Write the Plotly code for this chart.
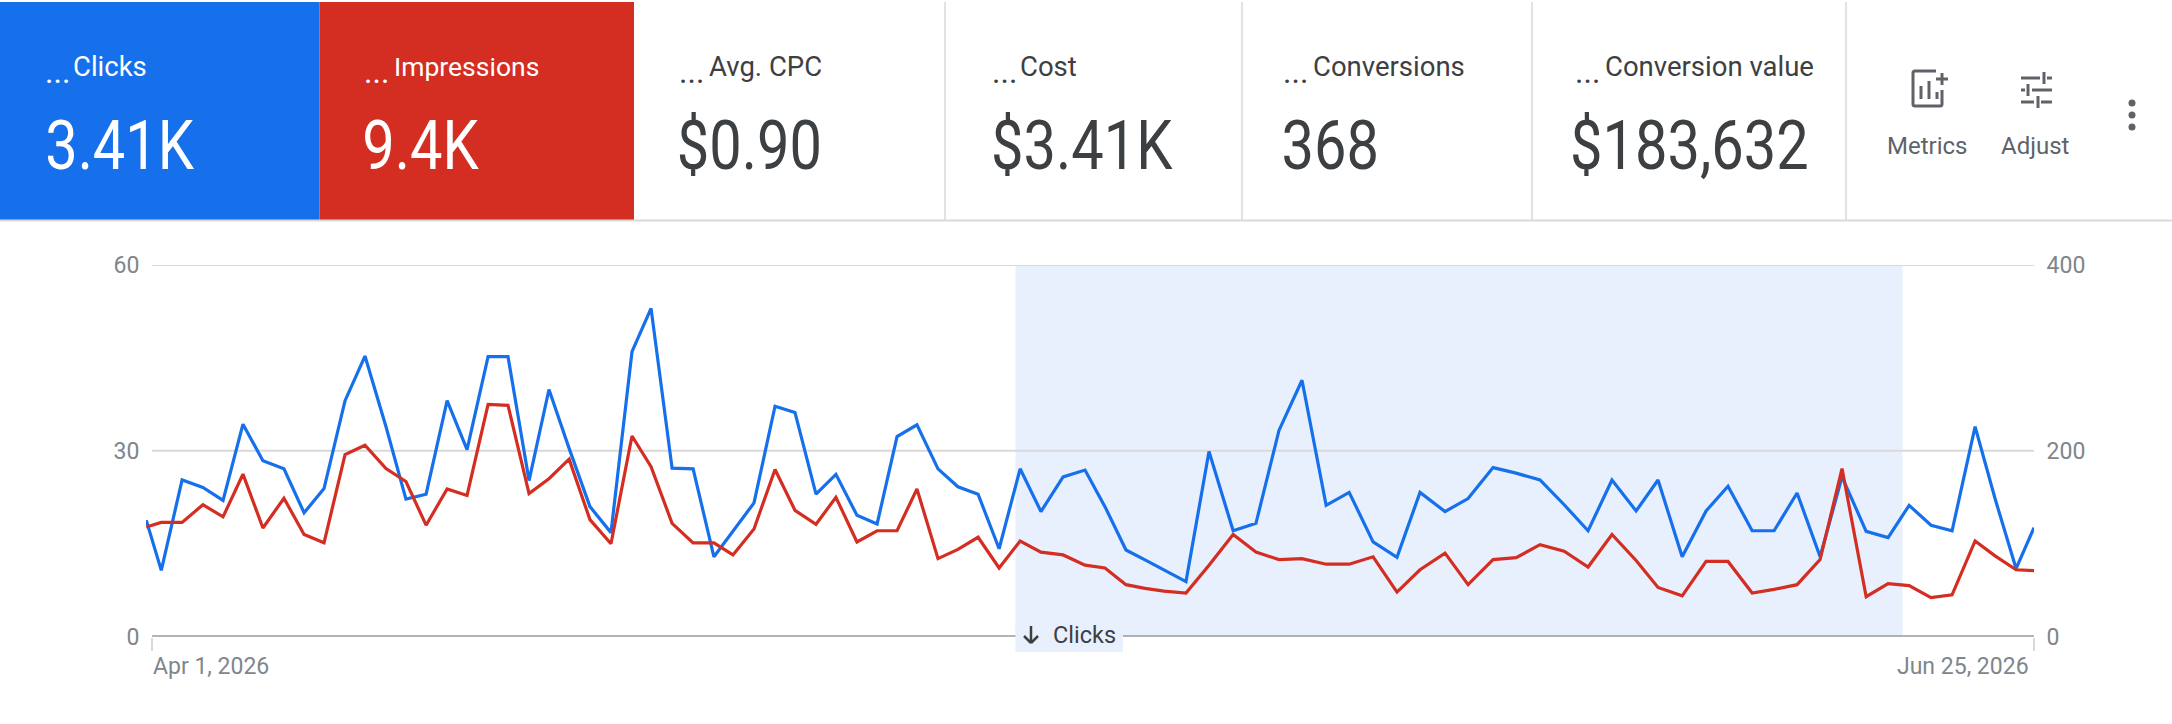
import plotly.graph_objects as go

# ---- data ----
days = [-0.26,0.42,1.36,2.30,3.21,4.11,5.01,5.96,6.87,7.77,8.72,9.62,10.57,11.47,12.38,13.33,14.23,15.18,16.08,17.03,17.93,18.84,19.78,20.73,21.68,22.54,23.49,24.44,25.38,26.24,27.19,
        28.14,29.04,29.99,30.89,31.84,32.75,33.65,34.55,35.50,36.40,37.31,38.26,39.21,40.15,41.15,42.14,43.04,43.99,44.85,45.71,46.70,47.74,48.83,49.86,50.90,51.94,53.03,54.07,55.15,56.23,
        57.27,58.40,59.44,60.57,61.61,62.69,63.78,64.86,65.94,67.03,68.02,69.11,70.19,71.18,72.27,73.26,74.30,75.34,76.33,77.42,78.41,79.36,80.35,81.30,82.34,83.24,84.19,85.00]
clicks = [18.8,10.7,25.3,24.1,22.0,34.3,28.4,27.1,20.0,23.9,38.1,45.3,33.9,22.2,23.0,38.1,30.2,45.2,45.2,25.2,39.9,30.4,21.0,16.8,46.0,53.0,27.2,27.1,12.9,17.0,21.6,
          37.2,36.2,23.0,26.2,19.6,18.2,32.3,34.2,27.1,24.2,23.0,14.2,27.1,20.2,25.8,26.9,21.0,14.0,12.4,10.8,8.9,29.9,17.1,18.3,33.3,41.4,21.2,23.3,15.3,12.8,
          23.3,20.2,22.3,27.3,26.4,25.3,21.3,17.1,25.3,20.3,25.3,12.9,20.3,24.3,17.1,17.1,23.2,12.9,25.8,17.0,16.0,21.2,18.0,17.1,33.9,22.3,11.0,17.6]
impressions = [118,123,123,142,129,175,117,149,110,101,196,206,181,167,120,159,152,250,249,154,170,191,126,100,216,183,122,101,101,88,116,
               180,136,121,150,102,114,114,159,84,94,107,74,103,91,88,77,74,56,52,49,47,77,110,91,83,84,78,78,86,48,
               72,90,56,83,85,99,92,75,110,82,53,44,81,81,47,51,56,83,181,43,57,55,42,45,103,87,72,71]
kpi_labels = ["Clicks", "Impressions", "Avg. CPC", "Cost", "Conversions", "Conversion value"]
kpi_values = ["3.41K", "9.4K", "$0.90", "$3.41K", "368", "$183,632"]
left_ticks = [0, 30, 60]
right_ticks = [0, 200, 400]
date_labels = ["Apr 1, 2026", "Jun 25, 2026"]
tool_labels = ["Metrics", "Adjust"]

# ---- page geometry (pixels) ----
W, H = 2172, 724
BLUE, RED = "#1670EB", "#D42D21"
INK, MUTED, RULE, AXIS, BAND = "#3c4043", "#80868b", "#d9d9d9", "#9b9b9b", "#E8F0FD"
UI_FONT = "Roboto, sans-serif"
PLOT_L, PLOT_R, PLOT_START = 152, 2034, 146

def px(x): return x / W
def py(y): return 1 - y / H

shapes, annos = [], []

def rect(x0, y0, x1, y1, fill, layer="below", line=None, lw=0):
    shapes.append(dict(type="rect", xref="paper", yref="paper", x0=px(x0), x1=px(x1), y0=py(y1), y1=py(y0),
                       fillcolor=fill, line=dict(color=line or fill, width=lw), layer=layer))

def seg(x0, y0, x1, y1, color, w=2, layer="below"):
    shapes.append(dict(type="line", xref="paper", yref="paper", x0=px(x0), x1=px(x1), y0=py(y0), y1=py(y1),
                       line=dict(color=color, width=w), layer=layer))

def text(x, y, s, size, color, anchor="left", font=UI_FONT):
    annos.append(dict(xref="paper", yref="paper", x=px(x), y=py(y), text=s, showarrow=False,
                      xanchor=anchor, yanchor="middle", font=dict(size=size, color=color, family=font)))

# header
rect(0, 2, 319.5, 220, BLUE)
rect(319.5, 2, 634, 220, RED)
seg(0, 220.5, W, 220.5, RULE, 2)
for x in (945, 1242, 1532, 1846):
    seg(x, 2, x, 220, RULE, 1.5)

dots_x = [43, 362, 677, 990, 1281, 1573]
label_x = [71, 392, 707, 1018, 1311, 1603]
value_c = [119.5, 420, 749, 1082, 1330, 1689.5]
for i, (lab, val) in enumerate(zip(kpi_labels, kpi_values)):
    c = "white" if i < 2 else INK
    text(dots_x[i], 72, "...", 32, c)
    text(label_x[i], 66, lab, 27.5 if i != 1 else 26.5, c)
    text(value_c[i], 146, val, 68, c, "center")

# metrics icon
G = "#5f6368"
shapes.append(dict(type="path", xref="paper", yref="paper", layer="below", line=dict(color=G, width=3),
    path=f"M {px(1936)} {py(71)} L {px(1915)} {py(71)} Q {px(1913)} {py(71)} {px(1913)} {py(73)} L {px(1913)} {py(104)} "
         f"Q {px(1913)} {py(106)} {px(1915)} {py(106)} L {px(1940)} {py(106)} Q {px(1942)} {py(106)} {px(1942)} {py(104)} L {px(1942)} {py(90)}"))
seg(1921, 86, 1921, 99, G, 3)
seg(1929, 81, 1929, 99, G, 3)
seg(1937, 92, 1937, 99, G, 3)
seg(1936, 79, 1948, 79, G, 3)
seg(1942, 73, 1942, 85, G, 3)
# adjust icon
seg(2021, 78, 2040, 78, G, 3); seg(2047, 78, 2052, 78, G, 3); seg(2044, 72, 2044, 84, G, 3)
seg(2021, 90, 2025, 90, G, 3); seg(2032, 90, 2052, 90, G, 3); seg(2028, 84, 2028, 96, G, 3)
seg(2021, 102, 2034, 102, G, 3); seg(2041, 102, 2052, 102, G, 3); seg(2038, 96, 2038, 108, G, 3)
# overflow dots
for y in (103, 115, 127):
    shapes.append(dict(type="circle", xref="paper", yref="paper", layer="below", fillcolor=G, line=dict(width=0),
                       x0=px(2128.5), x1=px(2135.5), y0=py(y + 3.5), y1=py(y - 3.5)))
text(1927, 146, tool_labels[0], 24, G, "center")
text(2035, 146, tool_labels[1], 24, G, "center")

# highlighted band
rect(1015.5, 265, 1902.5, 637, BAND)

# gridlines and baseline start right of the first point, as in the original
for v in left_ticks:
    shapes.append(dict(type="line", xref="paper", yref="y", x0=px(PLOT_L), x1=px(PLOT_R), y0=v, y1=v, layer="below",
                       line=dict(color=AXIS if v == 0 else RULE, width=3 if v == 0 else 2)))

# sort tag sits over the baseline
rect(1015.5, 624, 1123, 652, BAND, layer="above")
seg(1031, 626, 1031, 643, INK, 2.5, "above")
seg(1024, 636, 1031, 643, INK, 2.5, "above")
seg(1038, 636, 1031, 643, INK, 2.5, "above")
text(1051, 635, kpi_labels[0], 23.5, INK)

# date labels
text(151, 666, date_labels[0], 23, MUTED)
text(2031, 666, date_labels[1], 23, MUTED, "right")

fig = go.Figure()
fig.add_trace(go.Scatter(x=days, y=clicks, mode="lines", line=dict(color=BLUE, width=3.2, shape="linear"),
                         name="Clicks", yaxis="y"))
fig.add_trace(go.Scatter(x=days, y=impressions, mode="lines", line=dict(color=RED, width=3.2, shape="linear"),
                         name="Impressions", yaxis="y2"))

fig.update_layout(
    width=W, height=H, margin=dict(l=0, r=0, t=0, b=0, autoexpand=False), showlegend=False,
    paper_bgcolor="white", plot_bgcolor="rgba(0,0,0,0)", hovermode=False,
    font=dict(family=UI_FONT, color=MUTED, size=22),
    xaxis=dict(domain=[px(PLOT_START), px(PLOT_R)], range=[-0.27, 85], tickvals=[0, 85], ticktext=["", ""], ticks="outside",
               ticklen=13, tickcolor=RULE, tickwidth=2, showgrid=False, zeroline=False, automargin=False,
               showline=False, anchor="y"),
    yaxis=dict(domain=[py(636.7), py(265)], range=[0, 60], tickvals=left_ticks, showgrid=False,
               zeroline=False, ticks="outside", ticklen=1, tickcolor="rgba(0,0,0,0)", automargin=False,
               tickfont=dict(size=23, color=MUTED)),
    yaxis2=dict(domain=[py(636.7), py(265)], range=[0, 400], tickvals=right_ticks, overlaying="y", side="right",
                showgrid=False, zeroline=False, ticks="outside", ticklen=7, tickcolor="rgba(0,0,0,0)", automargin=False,
                tickfont=dict(size=23, color=MUTED)),
    shapes=shapes, annotations=annos,
)

# The big KPI figures are a condensed face in the original: narrow those glyphs to match.
post = """
document.body.style.margin='0';
document.documentElement.style.overflow='hidden';
document.querySelectorAll('.annotation-text').forEach(function(t){
  if (parseFloat(t.style.fontSize) >= 60) {
    t.setAttribute('textLength', 0.85 * t.getComputedTextLength());
    t.setAttribute('lengthAdjust', 'spacingAndGlyphs');
  }
});
"""
fig.write_html("out.html", config={"displayModeBar": False}, post_script=post)
